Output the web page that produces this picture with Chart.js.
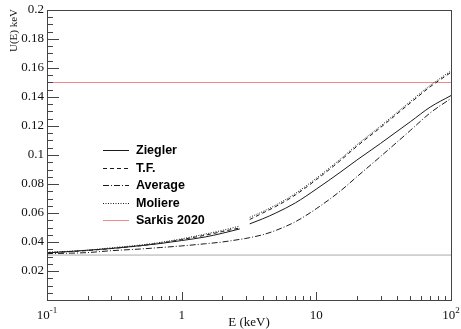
<!DOCTYPE html>
<html>
<head>
<meta charset="utf-8">
<script src="https://cdn.jsdelivr.net/npm/chart.js@4/dist/chart.umd.min.js"></script>
<style>
    html, body { margin: 0; padding: 0; background: #fff; }
    #wrap { width: 461px; height: 329px; }
</style>
</head>
<body>
<div id="wrap"><canvas id="uChart"></canvas></div>
<script>
// energies (keV); null marks the gap in the fitted curves
const energies = [0.1, 0.15, 0.2, 0.3, 0.5, 0.7, 1, 1.5, 2, 2.7, 3, 3.2, 4, 5, 7, 10, 15, 20, 30, 50, 70, 100];
const ziegler  = [0.0325, 0.0335, 0.0343, 0.0355, 0.0375, 0.039, 0.041, 0.0435, 0.046, 0.049, null, 0.0525, 0.056, 0.060, 0.067, 0.0765, 0.088, 0.0965, 0.108, 0.123, 0.133, 0.141];
const thomasFermi = [0.0325, 0.0334, 0.0341, 0.0355, 0.0375, 0.0393, 0.0417, 0.0447, 0.0472, 0.0497, null, 0.0555, 0.060, 0.0645, 0.0725, 0.083, 0.096, 0.106, 0.119, 0.136, 0.147, 0.157];
const average  = [0.032, 0.0323, 0.0327, 0.034, 0.0352, 0.0362, 0.0373, 0.0388, 0.040, 0.0418, 0.0425, 0.043, 0.045, 0.048, 0.054, 0.063, 0.075, 0.085, 0.099, 0.117, 0.129, 0.139];
const moliere  = [0.033, 0.0337, 0.0344, 0.036, 0.038, 0.0398, 0.0422, 0.0455, 0.048, 0.051, null, 0.057, 0.061, 0.0655, 0.0735, 0.084, 0.097, 0.107, 0.120, 0.137, 0.148, 0.158];

const flatE = [0.1, 100];
const sarkis = [0.15, 0.15];
const baseline = [0.031, 0.031];

const xMajor = [0.1, 1, 10, 100];
const xMajorLabels = [['10', '-1'], ['1', ''], ['10', ''], ['10', '2']];
const yMajor = [0.02, 0.04, 0.06, 0.08, 0.1, 0.12, 0.14, 0.16, 0.18, 0.2];
const yMajorLabels = ['0.02', '0.04', '0.06', '0.08', '0.1', '0.12', '0.14', '0.16', '0.18', '0.2'];

function toPoints(xs, ys) {
    return xs.map((x, i) => ({ x, y: ys[i] }));
}

const LINE = '#1a1a1a';

const datasets = [
    { label: 'Ziegler', data: toPoints(energies, ziegler), borderColor: LINE, borderDash: [] },
    { label: 'T.F.', data: toPoints(energies, thomasFermi), borderColor: LINE, borderDash: [4, 3] },
    { label: 'Average', data: toPoints(energies, average), borderColor: LINE, borderDash: [6, 2, 1, 2] },
    { label: 'Moliere', data: toPoints(energies, moliere), borderColor: LINE, borderDash: [1, 1.5] },
    { label: 'Sarkis 2020', data: toPoints(flatE, sarkis), borderColor: '#f08a8a', borderDash: [] },
    { label: '', data: toPoints(flatE, baseline), borderColor: '#aaaaaa', borderDash: [], inLegend: false }
].map(d => Object.assign({
    borderWidth: 1,
    pointRadius: 0,
    fill: false,
    tension: 0.3,
    cubicInterpolationMode: 'monotone',
    spanGaps: false
}, d));

// ROOT-like frame, inward ticks, labels and inner legend
const frameAndLegend = {
    id: 'frameAndLegend',
    afterDatasetsDraw(c) {
        const ctx = c.ctx;
        const a = c.chartArea;
        const xs = c.scales.x;
        const ys = c.scales.y;
        ctx.save();
        ctx.strokeStyle = '#444';
        ctx.lineWidth = 1;
        ctx.strokeRect(Math.round(a.left) + 0.5, Math.round(a.top) + 0.5,
            Math.round(a.right - a.left), Math.round(a.bottom - a.top));

        // y ticks
        ctx.beginPath();
        for (let v = 0; v <= 0.2001; v += 0.005) {
            const y = Math.round(ys.getPixelForValue(v)) + 0.5;
            const major = Math.abs(v / 0.02 - Math.round(v / 0.02)) < 1e-6;
            ctx.moveTo(a.left, y);
            ctx.lineTo(a.left + (major ? 12 : 6), y);
        }
        // x ticks
        for (let d = -1; d < 2; d++) {
            for (let m = 1; m <= 9; m++) {
                const x = Math.round(xs.getPixelForValue(m * Math.pow(10, d))) + 0.5;
                ctx.moveTo(x, a.bottom);
                ctx.lineTo(x, a.bottom - (m === 1 ? 8 : 4));
            }
        }
        ctx.stroke();

        // tick labels
        ctx.fillStyle = '#111';
        ctx.font = '13px "Liberation Serif", serif';
        ctx.textAlign = 'right';
        ctx.textBaseline = 'middle';
        yMajor.forEach((v, i) => {
            ctx.fillText(yMajorLabels[i], a.left - 3, ys.getPixelForValue(v));
        });
        xMajor.forEach((v, i) => {
            const [base, sup] = xMajorLabels[i];
            ctx.font = '13px "Liberation Serif", serif';
            const wb = ctx.measureText(base).width;
            ctx.font = '9px "Liberation Serif", serif';
            const ws = sup ? ctx.measureText(sup).width : 0;
            const x0 = xs.getPixelForValue(v) - (wb + ws) / 2;
            ctx.textAlign = 'left';
            ctx.font = '13px "Liberation Serif", serif';
            ctx.fillText(base, x0, a.bottom + 16);
            if (sup) {
                ctx.font = '9px "Liberation Serif", serif';
                ctx.fillText(sup, x0 + wb, a.bottom + 11);
            }
        });

        // axis titles
        ctx.font = '13px "Liberation Serif", serif';
        ctx.textAlign = 'center';
        ctx.fillText('E (keV)', (a.left + a.right) / 2, 323);
        ctx.save();
        ctx.translate(14, a.top - 1);
        ctx.rotate(-Math.PI / 2);
        ctx.font = '11px "Liberation Serif", serif';
        ctx.textAlign = 'right';
        ctx.fillText('U(E) keV', 0, 0);
        ctx.restore();

        // legend
        ctx.font = 'bold 12.5px "Liberation Sans", Arial, sans-serif';
        ctx.textAlign = 'left';
        let ly = 150;
        c.data.datasets.forEach(ds => {
            if (ds.inLegend === false) return;
            ctx.beginPath();
            ctx.strokeStyle = ds.borderColor;
            ctx.setLineDash(ds.borderDash);
            ctx.moveTo(103, Math.round(ly) + 0.5);
            ctx.lineTo(129, Math.round(ly) + 0.5);
            ctx.stroke();
            ctx.setLineDash([]);
            ctx.fillStyle = '#000';
            ctx.fillText(ds.label, 136, ly + 1);
            ly += 17.5;
        });
        ctx.restore();
    }
};

function initChart() {
    const ctx = document.getElementById('uChart').getContext('2d');
    return new Chart(ctx, {
        type: 'line',
        data: { datasets },
        options: {
            responsive: true,
            maintainAspectRatio: false,
            animation: false,
            parsing: true,
            layout: { padding: { left: 47, right: 10, top: 10, bottom: 29 } },
            plugins: {
                legend: { display: false },
                tooltip: { enabled: false }
            },
            scales: {
                x: { type: 'logarithmic', min: 0.1, max: 100, display: false },
                y: { type: 'linear', min: 0, max: 0.2, display: false }
            }
        },
        plugins: [frameAndLegend]
    });
}

document.addEventListener('DOMContentLoaded', initChart);
</script>
</body>
</html>
